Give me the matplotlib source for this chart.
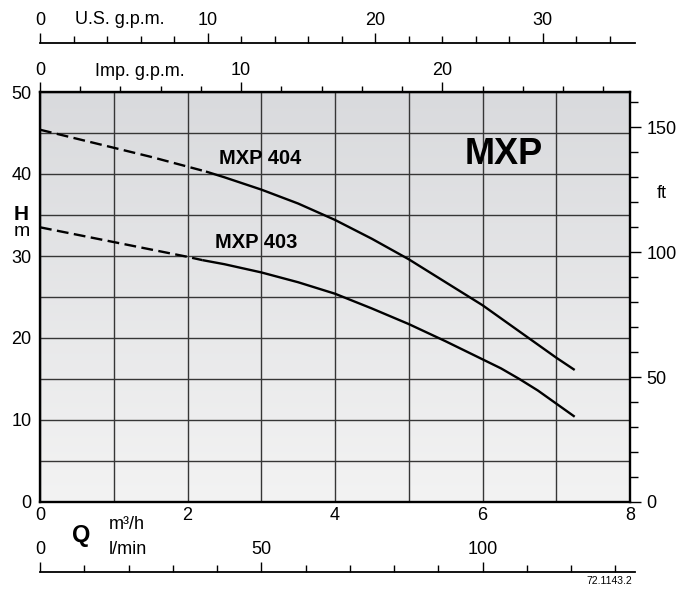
import numpy as np
import matplotlib
matplotlib.use('Agg')
import matplotlib.pyplot as plt
from matplotlib.colors import LinearSegmentedColormap
from matplotlib.transforms import blended_transform_factory

plt.rcParams['font.family'] = ['Liberation Sans', 'DejaVu Sans']

# pump curves, Q in m3/h, H in m
q404 = [0, 0.5, 1, 1.5, 2, 2.25, 2.5, 3, 3.5, 4, 4.5, 5, 5.5, 6, 6.5, 7, 7.25]
h404 = [45.4, 44.3, 43.2, 42.1, 40.9, 40.3, 39.6, 38.1, 36.4, 34.4, 32.1, 29.6, 26.8, 24.0, 20.8, 17.6, 16.1]
q403 = [0, 0.5, 1, 1.5, 2, 2.2, 2.5, 3, 3.5, 4, 4.5, 5, 5.5, 6, 6.25, 6.5, 6.75, 7, 7.25]
h403 = [33.5, 32.6, 31.7, 30.8, 29.9, 29.5, 29.0, 28.0, 26.8, 25.4, 23.6, 21.7, 19.6, 17.4, 16.3, 15.0, 13.6, 12.0, 10.4]
dash_end = 5  # index where the dashed part stops

q_ticks = [0, 2, 4, 6, 8]
h_ticks = [0, 10, 20, 30, 40, 50]
ft_major = [0, 50, 100, 150]
ft_minor = list(range(0, 161, 10))
us_major = [0, 10, 20, 30]
us_minor = list(range(0, 35, 2))
imp_major = [0, 10, 20]
imp_minor = list(range(0, 29, 2))
lmin_major = [0, 50, 100]
lmin_minor = list(range(0, 131, 10))

US_PER_M3H = 1000 / 3.785411784 / 60
IMP_PER_M3H = 1000 / 4.54609 / 60
LMIN_PER_M3H = 1000 / 60

FS = 13  # tick label size

W, H = 693, 593
fig = plt.figure(figsize=(W / 100, H / 100), dpi=100)


def rect(x0, y0, x1, y1):
    # pixel box (top-left origin) -> figure fraction
    return [x0 / W, 1 - y1 / H, (x1 - x0) / W, (y1 - y0) / H]


AX_L, AX_R, AX_T, AX_B = 40, 630, 92, 502
ax = fig.add_axes(rect(AX_L, AX_T, AX_R, AX_B))
px_per_q = (AX_R - AX_L) / 8

# background gradient
bg = LinearSegmentedColormap.from_list('bg', ['#d9dadd', '#f3f3f3'])
ax.imshow(np.linspace(0, 1, 256).reshape(-1, 1), cmap=bg, extent=[0, 8, 0, 50],
          aspect='auto', zorder=0)

ax.set_xlim(0, 8)
ax.set_ylim(0, 50)
ax.set_xticks(q_ticks)
ax.set_xticks(range(0, 9), minor=True)
ax.set_yticks(h_ticks)
ax.set_yticks(range(0, 51, 5), minor=True)
ax.grid(True, which='both', color='#363636', lw=1.0, zorder=1)
ax.tick_params(which='both', length=0, labelsize=FS)
ax.tick_params(axis='x', pad=3.5)
ax.tick_params(axis='y', pad=6)
for s in ax.spines.values():
    s.set_linewidth(1.7)
    s.set_zorder(5)

lw = 1.7
for q, h in [(q404, h404), (q403, h403)]:
    ax.plot(q[:dash_end + 1], h[:dash_end + 1], color='black', lw=lw,
            ls=(0, (5, 2.3)), zorder=3)
    ax.plot(q[dash_end:], h[dash_end:], color='black', lw=lw, zorder=3,
            solid_capstyle='butt')

ax.text(2.98, 41.95, 'MXP 404', fontsize=14.5, fontweight='bold',
        ha='center', va='center', zorder=4)
ax.text(2.93, 31.7, 'MXP 403', fontsize=14.5, fontweight='bold',
        ha='center', va='center', zorder=4)
ax.text(6.29, 42.4, 'MXP', fontsize=26, fontweight='bold',
        ha='center', va='center', zorder=4)

# H axis label
bt = blended_transform_factory(ax.transAxes, ax.transData)
hx = (21.5 - AX_L) / (AX_R - AX_L)
ax.text(hx, (AX_B - 220) / 8.2, 'H', transform=bt, fontsize=15,
        fontweight='bold', ha='center', va='baseline')
ax.text(hx, (AX_B - 236) / 8.2, 'm', transform=bt, fontsize=14,
        ha='center', va='baseline')

# right ft axis
ax2 = ax.twinx()
ax2.set_ylim(0, 50 / 0.3048)
ax2.set_yticks(ft_major)
ax2.set_yticks(ft_minor, minor=True)
ax2.tick_params(which='major', direction='out', length=8, width=1.0,
                labelsize=FS, pad=4)
ax2.tick_params(which='minor', direction='out', length=5.5, width=1.0)
for s in ax2.spines.values():
    s.set_visible(False)
ft_per_px = (50 / 0.3048) / (AX_B - AX_T)
ax2.text((662 - AX_L) / (AX_R - AX_L), (AX_B - 198) * ft_per_px, 'ft',
         transform=blended_transform_factory(ax2.transAxes, ax2.transData),
         fontsize=FS, ha='center', va='baseline')

# Imp. g.p.m. on top of the plot
imp = ax.secondary_xaxis('top', functions=(lambda q: q * IMP_PER_M3H,
                                           lambda g: g / IMP_PER_M3H))
imp.set_xticks(imp_major)
imp.set_xticks(imp_minor, minor=True)
imp.tick_params(which='major', direction='out', length=7.2, width=1.0,
                labelsize=FS, pad=2)
imp.tick_params(which='minor', direction='out', length=4.3, width=1.0)
imp.spines['top'].set_visible(False)


def ruler(y_line, y_top, factor, major, minor):
    r = fig.add_axes(rect(AX_L, y_top, 635, y_line))
    r.set_facecolor('none')
    r.set_xlim(0, (635 - AX_L) / px_per_q * factor)
    r.set_ylim(0, 1)
    for k in ['left', 'right', 'top']:
        r.spines[k].set_visible(False)
    r.spines['bottom'].set_linewidth(1.3)
    r.set_yticks([])
    r.set_xticks(major)
    r.set_xticks(minor, minor=True)
    r.tick_params(which='both', direction='in', bottom=True, top=False,
                  labelbottom=False, labeltop=True, width=1.0, pad=1.5)
    r.tick_params(which='major', length=7.5, labelsize=FS)
    r.tick_params(which='minor', length=5)
    return r


ruler(42.5, 31, US_PER_M3H, us_major, us_minor)
ruler(572, 560.5, LMIN_PER_M3H, lmin_major, lmin_minor)


def ftxt(x, y, s, **kw):
    fig.text(x / W, 1 - y / H, s, **kw)


ftxt(119.5, 24.5, 'U.S. g.p.m.', fontsize=FS, ha='center', va='baseline')
ftxt(140, 75.5, 'Imp. g.p.m.', fontsize=FS, ha='center', va='baseline')
ftxt(81, 542, 'Q', fontsize=17, fontweight='bold', ha='center', va='baseline')
ftxt(109, 529, 'm³/h', fontsize=FS, ha='left', va='baseline')
ftxt(109, 554.5, 'l/min', fontsize=FS, ha='left', va='baseline')
ftxt(632, 581, '72.1143.2', fontsize=7.5, ha='right', va='center')

fig.savefig('out.png', dpi=100)
